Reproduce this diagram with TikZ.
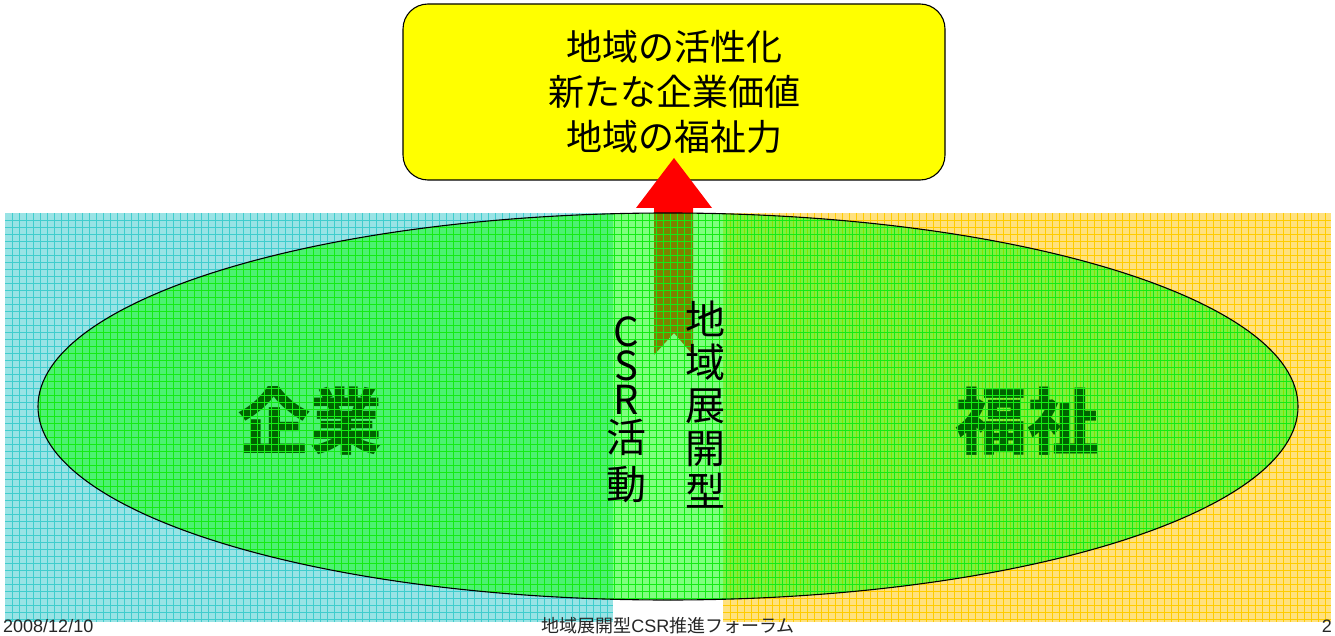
\documentclass[tikz,border=0pt]{standalone}
\usepackage{fontspec}
\setmainfont{Liberation Sans}
\newfontfamily\jp{Noto Sans CJK JP}
\definecolor{cyanbg}{RGB}{153,227,229}
\definecolor{cyanln}{RGB}{64,205,205}
\definecolor{yelbg}{RGB}{255,225,127}
\definecolor{yelln}{RGB}{255,204,0}
\definecolor{gridg}{RGB}{20,235,20}
\definecolor{txtg}{RGB}{0,100,0}
\definecolor{boxy}{RGB}{255,255,0}
\tikzset{
  goalbox/.style={draw=black, line width=1.1pt, fill=boxy, rounded corners=25pt,
    minimum width=542pt, minimum height=176pt, align=center, inner sep=0pt,
    font=\jp\fontsize{36}{45}\selectfont},
  bigtxt/.style={text=txtg, inner sep=0pt, font=\jp\bfseries\fontsize{72}{72}\selectfont},
  vtxt/.style={text=black, inner sep=0pt, align=center},
  foot/.style={inner sep=0pt, text=black!85, font=\fontsize{18}{18}\selectfont},
  gl/.style={line width=0.8pt}
}
\begin{document}
\begin{tikzpicture}[x=1pt,y=-1pt]
\useasboundingbox[fill=white] (0,0) rectangle (1335,636);
% background rectangles with grid
\fill[cyanbg] (5,213) rectangle (613,622);
\foreach \x in {12,19,...,612} \draw[gl,cyanln] (\x,213) -- (\x,622);
\foreach \y in {220,227,...,621} \draw[gl,cyanln] (5,\y) -- (613,\y);
\fill[yelbg] (723,213) rectangle (1331,622);
\foreach \x in {730,737,...,1330} \draw[gl,yelln] (\x,213) -- (\x,622);
\foreach \y in {220,227,...,621} \draw[gl,yelln] (723,\y) -- (1331,\y);
% goal box
\node[goalbox] (goal) at (674,92) {地域の活性化\\新たな企業価値\\地域の福祉力};
% red arrow
\fill[red] (674,158) -- (712,208) -- (693,208) -- (693,355) -- (674,333)
  -- (654,355) -- (654,208) -- (636,208) -- cycle;
% ellipse
\fill[green, fill opacity=0.5] (668,406.5) ellipse [x radius=630, y radius=193.5];
\node[bigtxt] (kigyo) at (310,421) {企業};
\node[bigtxt] (fukushi) at (1027,421) {福祉};
\begin{scope}
\clip (668,406.5) ellipse [x radius=630, y radius=193.5];
\foreach \x in {40,47,...,1298} \draw[gl,gridg] (\x,210) -- (\x,602);
\foreach \y in {220,227,...,601} \draw[gl,gridg] (36,\y) -- (1300,\y);
\end{scope}
\draw[line width=1.1pt] (668,406.5) ellipse [x radius=630, y radius=193.5];
% vertical texts
\node[vtxt, font=\jp\fontsize{40}{34}\selectfont] (csr) at (626,410) {C\\S\\R\\[4pt]活\\[10pt]動};
\node[vtxt, font=\jp\fontsize{40}{43}\selectfont] (chiiki) at (705,405) {地\\域\\展\\開\\型};
% footer
\node[foot, anchor=base west] (date) at (3,632) {2008/12/10};
\node[foot, anchor=base] (forum) at (668,632) {{\jp 地域展開型}CSR{\jp 推進フォーラム}};
\node[foot, anchor=base east] (page) at (1332,632) {2};
\end{tikzpicture}
\end{document}
